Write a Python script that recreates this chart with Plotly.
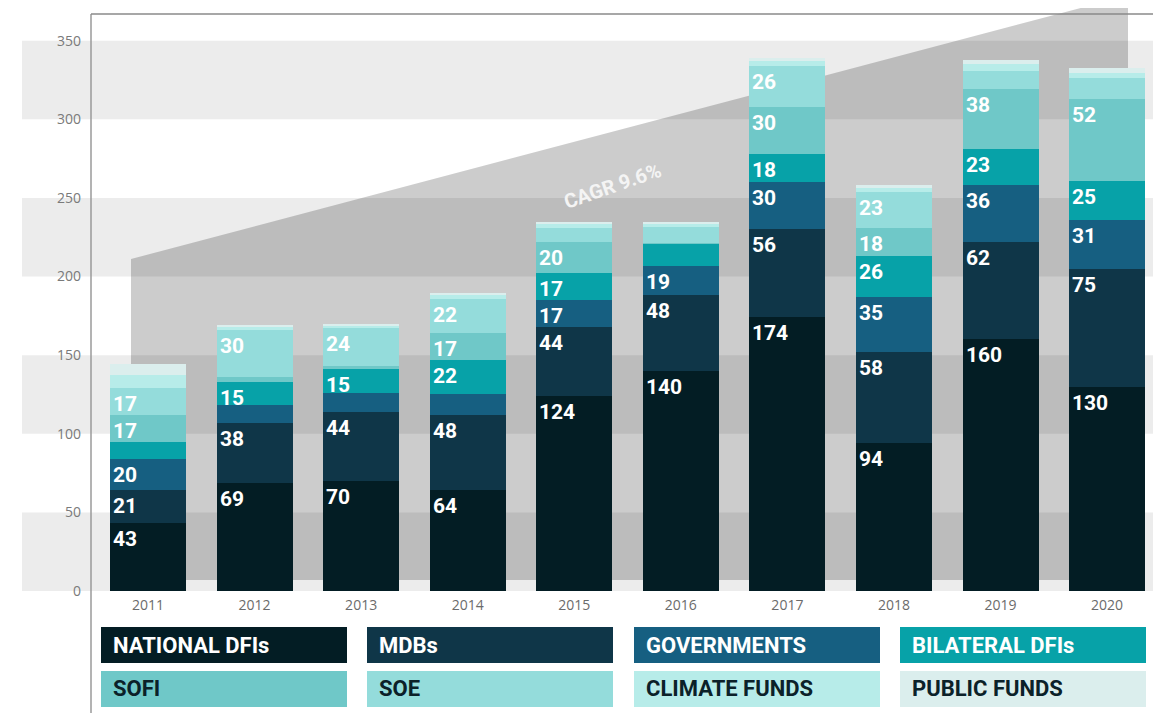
import plotly.graph_objects as go

years = ["2011", "2012", "2013", "2014", "2015", "2016", "2017", "2018", "2019", "2020"]

national_dfis = [43, 69, 70, 64, 124, 140, 174, 94, 160, 130]
mdbs = [21, 38, 44, 48, 44, 48, 56, 58, 62, 75]
governments = [20, 11, 12, 13, 17, 19, 30, 35, 36, 31]
bilateral_dfis = [11, 15, 15, 22, 17, 14, 18, 26, 23, 25]
sofi = [17, 3, 2, 17, 20, 0.5, 30, 18, 38, 52]
soe = [17, 30, 24, 22, 9, 10, 26, 23, 11.5, 13]
climate_funds = [8.5, 2.5, 2, 2, 2.5, 2, 3, 2.5, 4.5, 3.5]
public_funds = [7, 0.5, 1, 1.7, 1.3, 1.5, 2, 2, 2.5, 3]

series_names = ["NATIONAL DFIs", "MDBs", "GOVERNMENTS", "BILATERAL DFIs",
                "SOFI", "SOE", "CLIMATE FUNDS", "PUBLIC FUNDS"]
series_values = [national_dfis, mdbs, governments, bilateral_dfis,
                 sofi, soe, climate_funds, public_funds]
series_colors = ["#031d24", "#0f3648", "#165f81", "#07a2a8",
                 "#6fc8c8", "#94dcdb", "#b7ece9", "#dbeeed"]

y_ticks = [0, 50, 100, 150, 200, 250, 300, 350]
cagr_text = "CAGR 9.6%"
label_min = 15

COND = "Roboto, Liberation Sans Narrow, DejaVu Sans Condensed, sans-serif"

# page is offset by the 8px body margin
OFF = 8
W, H = 1161 - OFF, 713 - OFF
L, R, T, B = 91 - OFF, 0, 14 - OFF, 122
PW, PH = W - L - R, H - T - B


def px(x):
    # page pixel -> paper x
    return (x - OFF - L) / PW


def py(y):
    # page pixel -> paper y
    return (H - B - (y - OFF)) / PH


fig = go.Figure()
for name, vals, col in zip(series_names, series_values, series_colors):
    fig.add_trace(go.Bar(x=years, y=vals, name=name, marker_color=col,
                         marker_line_width=0, width=0.713, showlegend=False))

# value labels at the top-left corner of each segment
annotations = []
for i, yr in enumerate(years):
    base = 0
    for vals in series_values:
        v = vals[i]
        top = base + v
        if v >= label_min:
            annotations.append(dict(
                x=i, y=top, xref="x", yref="y", text=str(round(v)),
                showarrow=False, xanchor="left", yanchor="top",
                xshift=-37, yshift=-2,
                font=dict(family=COND, size=21, color="white", weight="bold")))
        base = top

annotations.append(dict(
    x=px(612), y=py(156), xref="paper", yref="paper", text=cagr_text,
    showarrow=False, textangle=-19,
    font=dict(family=COND, size=20, color="#f4f4f4", weight="bold")))

shapes = []
# background bands
for lo in y_ticks[::2]:
    shapes.append(dict(type="rect", xref="paper", yref="y", x0=px(22), x1=1,
                       y0=lo, y1=lo + 50, fillcolor="#ececec",
                       line_width=0, layer="below"))
# CAGR wedge
shapes.append(dict(
    type="path", xref="paper", yref="paper", layer="below",
    path=f"M {px(131)},{py(580)} L {px(131)},{py(259)} "
         f"L {px(1128)},{py(-4.5)} L {px(1128)},{py(580)} Z",
    fillcolor="rgba(0,0,0,0.2)", line_width=0))
# frame lines
shapes.append(dict(type="line", xref="paper", yref="paper", x0=0, x1=0,
                   y0=py(713), y1=1, line=dict(color="#9a9a9a", width=1.5)))
shapes.append(dict(type="line", xref="paper", yref="paper", x0=0, x1=1,
                   y0=1, y1=1, line=dict(color="#8a8a8a", width=1.5)))

# legend boxes
cols = [(101, 347), (367, 613), (634, 880), (900, 1146)]
rows = [(627, 663), (671, 707)]
for k, (name, col) in enumerate(zip(series_names, series_colors)):
    r, c = divmod(k, 4)
    x0, x1 = cols[c]
    y0, y1 = rows[r]
    shapes.append(dict(type="rect", xref="paper", yref="paper",
                       x0=px(x0), x1=px(x1), y0=py(y1), y1=py(y0),
                       fillcolor=col, line_width=0))
    annotations.append(dict(
        x=px(x0 + 10), y=py((y0 + y1) / 2), xref="paper", yref="paper",
        text=name, showarrow=False, xanchor="left", yanchor="middle",
        font=dict(family=COND, size=22, weight="bold",
                  color="white" if r == 0 else "#0b2129")))

fig.update_layout(
    width=W, height=H,
    margin=dict(l=L, r=R, t=T, b=B),
    barmode="stack",
    plot_bgcolor="rgba(0,0,0,0)",
    paper_bgcolor="white",
    shapes=shapes,
    annotations=annotations,
    xaxis=dict(type="category", range=[-0.535, 9.506], showgrid=False,
               zeroline=False, showline=False, ticks="",
               ticklabelstandoff=4,
               tickfont=dict(family="Open Sans", size=14, color="#6b6b6b")),
    yaxis=dict(range=[0, 367], tickvals=y_ticks, showgrid=False,
               zeroline=False, showline=False, ticks="",
               ticklabelstandoff=9,
               tickfont=dict(family="Open Sans", size=14, color="#7a7a7a")),
)

fig.write_html("out.html")
